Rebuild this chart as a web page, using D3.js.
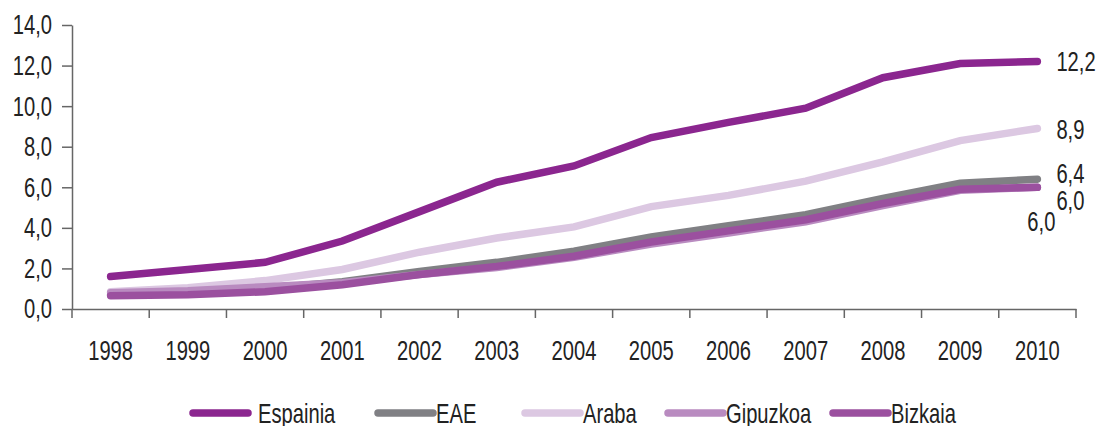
<!DOCTYPE html>
<html>
<head>
<meta charset="utf-8">
<script src="https://cdn.jsdelivr.net/npm/d3@7"></script>
<style>
  html, body { margin: 0; padding: 0; background: #fff; }
  svg { display: block; }
  svg text { font-family: "Liberation Sans", Arial, sans-serif; }
</style>
</head>
<body>
<svg id="chart" width="1098" height="426"></svg>
<script>
const years = ["1998","1999","2000","2001","2002","2003","2004","2005","2006","2007","2008","2009","2010"];
const seriesNames = ["Espainia", "EAE", "Araba", "Gipuzkoa", "Bizkaia"];
const espainia = [1.6, 1.95, 2.3, 3.35, 4.8, 6.25, 7.05, 8.45, 9.2, 9.9, 11.4, 12.1, 12.2];
const eae      = [0.7, 0.8, 1.0, 1.35, 1.85, 2.3, 2.85, 3.55, 4.1, 4.65, 5.45, 6.2, 6.4];
const araba    = [0.85, 1.05, 1.4, 1.95, 2.8, 3.5, 4.05, 5.05, 5.6, 6.3, 7.25, 8.3, 8.9];
const gipuzkoa = [0.8, 0.9, 1.1, 1.3, 1.7, 2.05, 2.55, 3.2, 3.75, 4.3, 5.1, 5.85, 6.0];
const bizkaia  = [0.65, 0.7, 0.85, 1.2, 1.7, 2.1, 2.6, 3.3, 3.85, 4.4, 5.2, 5.9, 6.0];
const yTicks = [0, 2, 4, 6, 8, 10, 12, 14];
const colors = ["#8b268f", "#808084", "#dcc8e2", "#b98bc0", "#9b509f"];

(function () {
const allValues = [espainia, eae, araba, gipuzkoa, bizkaia];
const series = seriesNames.map((n, i) => ({ name: n, values: allValues[i], color: colors[i] }));

const svg = d3.select("#chart");
const mLeft = 72, mRight = 1076, mTop = 25, mBottom = 309;
const fontSize = 28;
const textColor = "#222";
const fontFam = '"Liberation Sans", Arial, sans-serif';
const squeeze = 0.72;
function condense(sel) {
  sel.each(function () {
    const w = this.getComputedTextLength();
    d3.select(this).attr("textLength", (w * squeeze).toFixed(2)).attr("lengthAdjust", "spacingAndGlyphs");
  });
}

const x = d3.scaleBand().domain(years).range([mLeft, mRight]);
const y = d3.scaleLinear().domain([0, 14]).range([mBottom, mTop]);
const fmt = v => d3.format(".1f")(v).replace(".", ",");

// Y axis
const yAxis = svg.append("g").attr("transform", `translate(${mLeft},0)`)
  .call(d3.axisLeft(y).tickValues(yTicks).tickFormat(fmt).tickSize(10).tickSizeOuter(0));
yAxis.attr("font-family", fontFam);
yAxis.select(".domain").attr("stroke", "#666").attr("stroke-width", 1.5);
yAxis.selectAll(".tick line").attr("stroke", "#666").attr("stroke-width", 1.5);
yAxis.selectAll(".tick text").attr("font-size", fontSize).attr("fill", textColor)
  .attr("x", -20).call(condense);

// X axis
const xAxis = svg.append("g").attr("transform", `translate(0,${mBottom})`)
  .call(d3.axisBottom(x).tickSize(0).tickSizeOuter(0));
xAxis.attr("font-family", fontFam);
xAxis.select(".domain").attr("stroke", "#666").attr("stroke-width", 1.5);
xAxis.selectAll(".tick text").attr("font-size", fontSize).attr("fill", textColor)
  .attr("dy", "0.35em").attr("y", 41).call(condense);
// boundary ticks between categories
const boundaries = years.map(yr => x(yr)).concat([x(years[years.length - 1]) + x.bandwidth()]);
svg.append("g").selectAll("line").data(boundaries).join("line")
  .attr("x1", d => d).attr("x2", d => d)
  .attr("y1", mBottom).attr("y2", mBottom + 9)
  .attr("stroke", "#666").attr("stroke-width", 1.5);

// Lines
const line = d3.line()
  .x((d, i) => x(years[i]) + x.bandwidth() / 2)
  .y(d => y(d));

svg.append("g").selectAll("path").data(series).join("path")
  .attr("d", d => line(d.values))
  .attr("fill", "none")
  .attr("stroke", d => d.color)
  .attr("stroke-width", 7.5)
  .attr("stroke-linecap", "round")
  .attr("stroke-linejoin", "miter");

// End labels
const lastX = x(years[years.length - 1]) + x.bandwidth() / 2;
const labelOffsets = { "Espainia": [19, 0, "start"], "Araba": [19, 1, "start"], "EAE": [19, -6, "start"], "Gipuzkoa": [18, 34, "end"], "Bizkaia": [19, 13, "start"] };
svg.append("g").selectAll("text").data(series).join("text")
  .attr("x", d => lastX + labelOffsets[d.name][0])
  .attr("y", d => y(d.values[d.values.length - 1]) + labelOffsets[d.name][1])
  .attr("dy", "0.35em")
  .attr("text-anchor", d => labelOffsets[d.name][2])
  .attr("font-size", fontSize)
  .attr("fill", textColor)
  .text(d => fmt(d.values[d.values.length - 1]))
  .call(condense);

// Legend
const legendX = [193, 378, 525, 668, 833];
const legendY = 413;
const lg = svg.append("g").selectAll("g").data(series).join("g")
  .attr("transform", (d, i) => `translate(${legendX[i]},${legendY})`);
lg.append("line").attr("x1", 0).attr("x2", 55).attr("y1", 0).attr("y2", 0)
  .attr("stroke", d => d.color).attr("stroke-width", 7.5).attr("stroke-linecap", "round");
lg.append("text").attr("x", d => d.name === "Espainia" ? 65 : 58).attr("y", 0).attr("dy", "0.35em")
  .attr("font-size", fontSize).attr("fill", textColor).text(d => d.name)
  .call(condense);
})();
</script>
</body>
</html>
